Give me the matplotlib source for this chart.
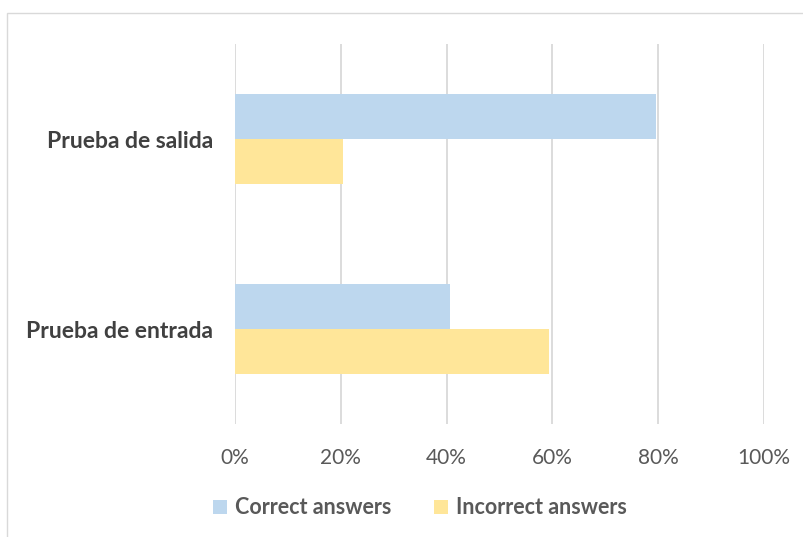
import matplotlib.pyplot as plt
from matplotlib.patches import Rectangle
import numpy as np

plt.rcParams['font.family'] = ['Lato', 'DejaVu Sans']

categories = ["Prueba de entrada", "Prueba de salida"]
correct_pct = [40.7, 79.6]
incorrect_pct = [59.3, 20.4]
tick_labels = ["0%", "20%", "40%", "60%", "80%", "100%"]

BLUE = "#BDD7EE"
YELLOW = "#FFE699"
GRID = "#D9D9D9"
TEXT = "#595959"

fig = plt.figure(figsize=(8.04, 5.37), dpi=100)
ax = fig.add_axes([235 / 804, 1 - 424 / 537, (764 - 235) / 804, (424 - 44) / 537])

# chart frame, like the office chart area border
fig.patches.append(Rectangle((7 / 804, -0.01), 1.0, 1 - 13 / 537 + 0.01,
                             transform=fig.transFigure, fill=False,
                             edgecolor="#D9D9D9", linewidth=1.0))

y = np.arange(len(categories))
h = 0.237
ax.barh(y + h / 2, correct_pct, height=h, color=BLUE, label="Correct answers", zorder=3)
ax.barh(y - h / 2, incorrect_pct, height=h, color=YELLOW, label="Incorrect answers", zorder=3)

ax.set_xlim(0, 100)
ax.set_ylim(-0.5, 1.5)
ax.set_xticks(np.arange(0, 101, 20))
ax.set_xticklabels(tick_labels, fontsize=15, color=TEXT)
ax.set_yticks(y)
ax.set_yticklabels(categories, fontsize=16.5, fontweight='bold', color="#404040")
ax.tick_params(axis='both', length=0)
ax.tick_params(axis='x', pad=17)
ax.tick_params(axis='y', pad=16)

ax.grid(axis='x', color=GRID, linewidth=1.3, zorder=0)
for s in ax.spines.values():
    s.set_visible(False)

leg = fig.legend(loc='center', bbox_to_anchor=(420 / 804, 1 - 508 / 537), ncol=2,
                 frameon=False, handlelength=0.65, handleheight=0.65,
                 handletextpad=0.35, columnspacing=2.0,
                 prop={'size': 15.5, 'weight': 'bold'})
for t in leg.get_texts():
    t.set_color(TEXT)

fig.savefig("out.png", dpi=100)
